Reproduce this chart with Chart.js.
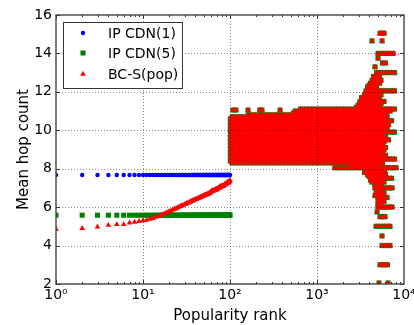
<!DOCTYPE html>
<html>
<head>
<meta charset="utf-8">
<script src="https://cdn.jsdelivr.net/npm/chart.js@4.4.1/dist/chart.umd.min.js"></script>
<style>
  html, body { margin: 0; padding: 0; background: #fff; }
</style>
</head>
<body>
<canvas id="chart" width="414" height="325"></canvas>
<script>

// ranks 1..100 (head of the popularity list)
const headRanks = [
  1, 2, 3, 4, 5, 6, 7, 8, 9, 10, 11, 12, 13, 14, 15, 16, 17, 18, 19, 20,
  21, 22, 23, 24, 25, 26, 27, 28, 29, 30, 31, 32, 33, 34, 35, 36, 37, 38, 39, 40,
  41, 42, 43, 44, 45, 46, 47, 48, 49, 50, 51, 52, 53, 54, 55, 56, 57, 58, 59, 60,
  61, 62, 63, 64, 65, 66, 67, 68, 69, 70, 71, 72, 73, 74, 75, 76, 77, 78, 79, 80,
  81, 82, 83, 84, 85, 86, 87, 88, 89, 90, 91, 92, 93, 94, 95, 96, 97, 98, 99, 100
];
const ipCdn1Hop = 7.67;
const ipCdn5Hop = 5.58;
const bcsHeadHops = [
  4.86, 4.90, 4.97, 5.06, 5.10, 5.10, 5.18, 5.22, 5.26, 5.30,
  5.33, 5.38, 5.42, 5.48, 5.52, 5.58, 5.62, 5.68, 5.72, 5.78,
  5.80, 5.86, 5.90, 5.93, 5.97, 6.02, 6.04, 6.08, 6.10, 6.14,
  6.16, 6.20, 6.22, 6.25, 6.28, 6.30, 6.33, 6.35, 6.38, 6.40,
  6.41, 6.44, 6.46, 6.48, 6.50, 6.52, 6.53, 6.56, 6.57, 6.60,
  6.61, 6.63, 6.64, 6.66, 6.68, 6.69, 6.71, 6.72, 6.74, 6.79,
  6.80, 6.86, 6.83, 6.85, 6.86, 6.88, 6.89, 6.91, 6.92, 6.94,
  6.90, 6.96, 6.98, 6.99, 7.01, 7.02, 7.08, 7.05, 7.06, 7.08,
  7.09, 7.10, 7.12, 7.13, 7.10, 7.16, 7.17, 7.18, 7.20, 7.21,
  7.22, 7.24, 7.30, 7.27, 7.28, 7.30, 7.27, 7.33, 7.35, 7.38
];

// rank columns in the dense band (two interleaved sets)
const colRanksA = [101, 111, 122, 134, 147, 162, 178, 196, 216, 238, 262, 288, 317, 349, 384, 422, 464,
  510, 561, 617, 679, 747, 822, 904, 994, 1094, 1203, 1323, 1456, 1601, 1761, 1937, 2131, 2344, 2578,
  2836, 3120, 3380, 3660, 3960, 4290, 4640, 5030, 5440, 5890, 6380, 6900, 7480, 8100];
const colRanksB = [106, 116, 128, 140, 154, 170, 187, 205, 226, 249, 274, 301, 332, 365, 402, 442, 486,
  535, 588, 647, 712, 783, 861, 947, 1042, 1146, 1261, 1387, 1526, 1678, 1846, 2031, 2234, 2457, 2703,
  2973, 3250, 3520, 3810, 4130, 4470, 4840, 5240, 5670, 6140, 6650, 7200, 7790];

// band rows: hop value, which column set, first and last rank of the run
const bandHops  = [8.05, 8.15, 8.3, 8.4, 8.5, 8.6, 8.7, 8.8, 8.9, 9.0, 9.1, 9.2, 9.3, 9.4, 9.5, 9.6,
  9.7, 9.8, 9.9, 10.0, 10.1, 10.2, 10.3, 10.4, 10.5, 10.6, 10.7, 10.8, 10.9, 11.0, 11.1,
  11.2, 11.4, 11.6, 11.95, 12.15, 12.35, 12.55, 12.7,
  7.8, 7.6, 7.4, 7.15, 6.85, 6.6, 6.4, 6.15];
const bandSet   = ['A', 'B', 'B', 'A', 'B', 'A', 'B', 'A', 'B', 'A', 'B', 'A', 'B', 'A', 'B', 'A',
  'B', 'A', 'B', 'A', 'B', 'A', 'B', 'A', 'B', 'A', 'B', 'A', 'B', 'A', 'B',
  'A', 'A', 'B', 'A', 'B', 'A', 'B', 'A',
  'B', 'A', 'B', 'A', 'B', 'A', 'B', 'A'];
const bandFirst = [1601, 2457, 106, 101, 106, 101, 106, 101, 106, 101, 106, 101, 106, 101, 106, 101,
  106, 101, 106, 101, 106, 101, 106, 101, 106, 101, 106, 162, 535, 561, 647,
  2836, 3120, 3250, 3660, 3810, 3960, 4470, 4640,
  3520, 3960, 4130, 4640, 4840, 4640, 5240, 5030];
const bandLast  = [8100, 5240, 5670, 5030, 7790, 5440, 6140, 5030, 5670, 5890, 6140, 5440, 5670, 5890, 6650, 5440,
  6140, 5890, 7790, 6380, 6140, 6380, 6650, 5890, 7200, 6380, 6140, 6380, 6140, 6900, 7790,
  5030, 5440, 5240, 4640, 4840, 4840, 5240, 5030,
  5670, 5890, 5670, 5440, 5240, 5440, 5670, 5440];

// sparse rows of the tail (and the few stragglers on top of the band)
const tailHops = [15.05, 14.65, 14.0, 13.75, 13.5, 13.3, 13.0, 12.8, 12.6, 12.45, 12.25, 12.05, 11.85, 11.7,
  11.5, 11.3, 11.05, 7.9, 7.7, 7.5, 7.3, 7.0, 6.75, 6.5, 6.3, 6.0, 5.75, 5.5, 5.0, 4.5, 4.0, 3.0, 2.05];
const tailRanks = [
  [5300, 5600, 5900],
  [4290, 5600],
  [5030, 5440, 5890, 6380, 6900, 7480],
  [5030],
  [5670, 6140],
  [4640],
  [4840, 5240, 5670, 6140, 6650, 7200, 7790],
  [4470, 4840, 5240],
  [4290, 4640, 5030, 5440],
  [4130, 4470, 4840, 5240],
  [3810, 4130, 4470, 4840],
  [3660, 3960, 4290, 4640, 5030, 5440, 5890, 6380, 6900, 7480, 7790],
  [3520, 3810, 4130, 4470, 4840, 5240, 5440],
  [3250, 3520, 3810, 4130, 4470, 4840],
  [3120, 3380, 3660, 3960, 4290, 4640, 5030, 5440, 5890],
  [2973, 3250, 3520, 3810, 4130, 4470, 4840, 5240],
  [108, 117, 161, 220, 233, 376],
  [3560, 3810, 4130, 4470, 4840, 5240, 5670, 6000],
  [3810, 4130, 4470, 4840, 5240, 5670, 6140],
  [4130, 4470, 4840, 5240, 5670, 6140, 6650, 7200],
  [4290, 4640, 5030, 5440, 5890],
  [4640, 5030, 5440, 5890, 6380, 6900, 7300],
  [4770, 5160, 5590, 5890],
  [5030, 5440, 5890, 6380],
  [5030, 5440, 5890],
  [5030, 5440, 5890, 6380, 6900, 7300],
  [4900],
  [5300, 5700, 6050],
  [4770, 5160, 5590, 6050, 6550, 6900],
  [5590],
  [5590, 6050, 6550, 6900],
  [5300, 5700, 6100, 6450],
  [5160, 6550]
];

const xMajor = [1, 10, 100, 1000, 10000];
const xTickText = { 1: '10\u2070', 10: '10\u00b9', 100: '10\u00b2', 1000: '10\u00b3', 10000: '10\u2074' };
const yTicks = [2, 4, 6, 8, 10, 12, 14, 16];
const seriesNames = ['IP CDN(1)', 'IP CDN(5)', 'BC-S(pop)'];

function tailPoints() {
  const pts = [];
  bandHops.forEach((hop, i) => {
    const cols = bandSet[i] === 'A' ? colRanksA : colRanksB;
    cols.forEach(r => { if (r >= bandFirst[i] && r <= bandLast[i]) pts.push({ x: r, y: hop }); });
  });
  tailHops.forEach((hop, i) => tailRanks[i].forEach(r => pts.push({ x: r, y: hop })));
  return pts;
}

const tail = tailPoints();
const FONT = 'DejaVu Sans';

const styles = [
  { pointStyle: 'circle', pointRadius: 2.2, color: '#0000ff' },
  { pointStyle: 'rect', pointRadius: 3.6, color: '#008000' },
  { pointStyle: 'triangle', pointRadius: 3.3, color: '#ff0000' }
];

const axesPlugin = {
  id: 'axesAndLegend',
  afterDatasetsDraw(chart) {
    const { ctx, chartArea: a, scales: { x, y } } = chart;
    ctx.save();
    // dotted grid (drawn over the data)
    ctx.strokeStyle = 'rgba(0,0,0,0.45)';
    ctx.lineWidth = 1;
    ctx.setLineDash([1, 2]);
    ctx.beginPath();
    xMajor.slice(1, -1).forEach(v => {
      const px = Math.round(x.getPixelForValue(v)) + 0.5;
      ctx.moveTo(px, a.top); ctx.lineTo(px, a.bottom);
    });
    yTicks.slice(1, -1).forEach(v => {
      const py = Math.round(y.getPixelForValue(v)) + 0.5;
      ctx.moveTo(a.left, py); ctx.lineTo(a.right, py);
    });
    ctx.stroke();
    ctx.setLineDash([]);

    // inward tick marks on all four sides
    ctx.strokeStyle = '#333';
    ctx.beginPath();
    for (let d = 0; d < 4; d++) {
      for (let k = 1; k < 10; k++) {
        const v = k * Math.pow(10, d);
        const px = Math.round(x.getPixelForValue(v)) + 0.5;
        const len = k === 1 ? 4 : 2;
        ctx.moveTo(px, a.bottom); ctx.lineTo(px, a.bottom - len);
        ctx.moveTo(px, a.top); ctx.lineTo(px, a.top + len);
      }
    }
    yTicks.forEach(v => {
      const py = Math.round(y.getPixelForValue(v)) + 0.5;
      ctx.moveTo(a.left, py); ctx.lineTo(a.left + 4, py);
      ctx.moveTo(a.right, py); ctx.lineTo(a.right - 4, py);
    });
    ctx.stroke();

    // frame
    ctx.strokeStyle = '#444';
    ctx.lineWidth = 1.4;
    ctx.strokeRect(a.left, a.top, a.right - a.left, a.bottom - a.top);

    // legend box
    const lx = 63.5, ly = 22.5, lw = 119, lh = 66;
    ctx.fillStyle = '#fff';
    ctx.fillRect(lx, ly, lw, lh);
    ctx.strokeStyle = '#333';
    ctx.lineWidth = 1;
    ctx.strokeRect(lx, ly, lw, lh);
    const rowsY = [33, 53, 74];
    ctx.font = '14px "' + FONT + '"';
    ctx.textBaseline = 'middle';
    ctx.textAlign = 'left';
    seriesNames.forEach((name, i) => {
      const s = styles[i];
      ctx.fillStyle = s.color;
      Chart.helpers.drawPoint(ctx, { pointStyle: s.pointStyle, radius: s.pointRadius, rotation: 0, borderWidth: 0 }, 83, rowsY[i]);
      ctx.fillStyle = '#000';
      ctx.fillText(name, 108, rowsY[i] + 1);
    });
    ctx.restore();
  }
};

const datasets = [
  { label: seriesNames[0], data: headRanks.map(r => ({ x: r, y: ipCdn1Hop })), order: 2 },
  { label: seriesNames[1], data: headRanks.map(r => ({ x: r, y: ipCdn5Hop })).concat(tail), order: 1 },
  { label: seriesNames[2], data: headRanks.map((r, i) => ({ x: r, y: bcsHeadHops[i] })).concat(tail), order: 0 }
].map((ds, i) => Object.assign(ds, {
  pointStyle: styles[i].pointStyle,
  pointRadius: styles[i].pointRadius,
  backgroundColor: styles[i].color,
  borderColor: styles[i].color,
  borderWidth: 0,
  pointHoverRadius: styles[i].pointRadius
}));

new Chart(document.getElementById('chart'), {
  type: 'scatter',
  data: { datasets },
  options: {
    responsive: false,
    animation: false,
    events: [],
    layout: { padding: { left: 0, right: 10, top: 15, bottom: 0 } },
    plugins: { legend: { display: false }, tooltip: { enabled: false } },
    scales: {
      x: {
        type: 'logarithmic',
        min: 1,
        max: 10000,
        grid: { display: false, drawTicks: false },
        border: { display: false },
        afterBuildTicks: s => { s.ticks = xMajor.map(v => ({ value: v, major: true })); },
        afterFit: s => { s.height = 41; s.paddingLeft = 0; s.paddingRight = 0; },
        ticks: {
          autoSkip: false,
          maxRotation: 0,
          padding: 3,
          color: '#000',
          font: { family: FONT, size: 14 },
          callback: v => xTickText[v] || ''
        },
        title: {
          display: true,
          text: 'Popularity rank',
          color: '#000',
          font: { family: FONT, size: 15 },
          padding: { top: 0, bottom: 0 }
        }
      },
      y: {
        min: 2,
        max: 16,
        grid: { display: false, drawTicks: false },
        border: { display: false },
        afterFit: s => { s.width = 56; s.paddingTop = 0; s.paddingBottom = 0; },
        ticks: {
          stepSize: 2,
          padding: 4,
          color: '#000',
          font: { family: FONT, size: 14 }
        },
        title: {
          display: true,
          text: 'Mean hop count',
          color: '#000',
          font: { family: FONT, size: 15 },
          padding: { top: 15, bottom: 0 }
        }
      }
    }
  },
  plugins: [axesPlugin]
});
</script>
</body>
</html>
